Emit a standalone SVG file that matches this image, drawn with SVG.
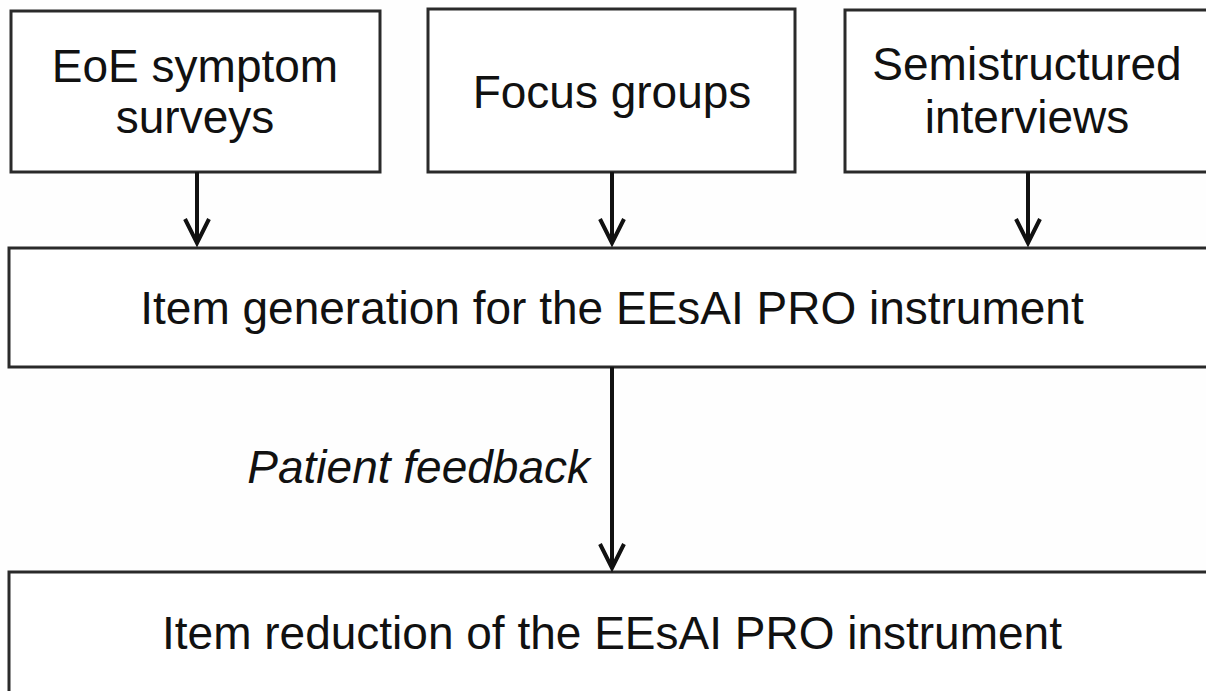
<svg xmlns="http://www.w3.org/2000/svg" width="1206" height="691" viewBox="0 0 1206 691">
<defs>
<style>
.box{fill:#fff;stroke:#2a2a2a;stroke-width:3}
.t{font-family:"Liberation Sans",Arial,sans-serif;font-size:46px;fill:#111;text-anchor:middle}
.it{font-family:"Liberation Sans",Arial,sans-serif;font-size:46px;font-style:italic;fill:#111;text-anchor:end}
.ln{stroke:#111;stroke-width:4;fill:none}
.hd{stroke:#111;stroke-width:4;fill:none;stroke-linejoin:miter}
</style>
</defs>
<rect width="1206" height="691" fill="#fefefe"/>
<g id="n1"><rect class="box" x="11" y="11" width="369" height="161"/>
<text class="t" x="195" y="82">EoE symptom</text><text class="t" x="195" y="133">surveys</text></g>
<g id="n2"><rect class="box" x="428" y="9" width="367" height="163"/>
<text class="t" x="612" y="108">Focus groups</text></g>
<g id="n3"><rect class="box" x="845" y="10" width="365" height="162"/>
<text class="t" x="1027" y="80">Semistructured</text><text class="t" x="1027" y="133">interviews</text></g>
<g id="n4"><rect class="box" x="9" y="248" width="1201" height="119"/>
<text class="t" x="612" y="324">Item generation for the EEsAI PRO instrument</text></g>
<g id="n5"><rect class="box" x="9" y="572" width="1201" height="125"/>
<text class="t" x="612" y="649">Item reduction of the EEsAI PRO instrument</text></g>
<g id="connectors">
<line class="ln" x1="197" y1="172" x2="197" y2="243"/><polyline class="hd" points="185,219 197,243 209,219"/>
<line class="ln" x1="612" y1="172" x2="612" y2="243"/><polyline class="hd" points="600,219 612,243 624,219"/>
<line class="ln" x1="1028" y1="172" x2="1028" y2="243"/><polyline class="hd" points="1016,219 1028,243 1040,219"/>
<line class="ln" x1="612" y1="367" x2="612" y2="568"/><polyline class="hd" points="600,544 612,568 624,544"/>
<text class="it" x="590" y="483">Patient feedback</text>
</g>
</svg>
